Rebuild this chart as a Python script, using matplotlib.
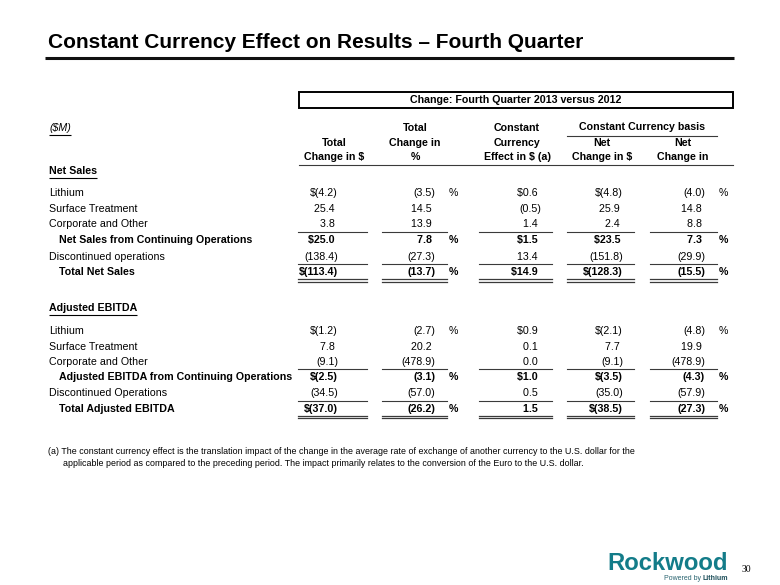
import matplotlib
matplotlib.use("Agg")
import matplotlib.pyplot as plt
from matplotlib import font_manager
from matplotlib.patches import Rectangle

installed = {f.name for f in font_manager.fontManager.ttflist}
SANS = "Liberation Sans"
NARROW = "Liberation Sans Narrow" if "Liberation Sans Narrow" in installed else SANS

# ---- data ----
title = "Constant Currency Effect on Results – Fourth Quarter"
box_title = "Change: Fourth Quarter 2013 versus 2012"
unit_label = "($M)"
group_header = "Constant Currency basis"
col_headers = [["Total", "Change in $"],
               ["Total", "Change in", "%"],
               ["Constant", "Currency", "Effect in $ (a)"],
               ["Net", "Change in $"],
               ["Net", "Change in"]]

ns_title = "Net Sales"
ns_labels = ["Lithium", "Surface Treatment", "Corporate and Other",
             "Net Sales from Continuing Operations", "Discontinued operations",
             "Total Net Sales"]
ns_total_usd = [-4.2, 25.4, 3.8, 25.0, -138.4, -113.4]
ns_total_pct = [-3.5, 14.5, 13.9, 7.8, -27.3, -13.7]
ns_fx_effect = [0.6, -0.5, 1.4, 1.5, 13.4, 14.9]
ns_cc_usd = [-4.8, 25.9, 2.4, 23.5, -151.8, -128.3]
ns_cc_pct = [-4.0, 14.8, 8.8, 7.3, -29.9, -15.5]

eb_title = "Adjusted EBITDA"
eb_labels = ["Lithium", "Surface Treatment", "Corporate and Other",
             "Adjusted EBITDA from Continuing Operations", "Discontinued Operations",
             "Total Adjusted EBITDA"]
eb_total_usd = [-1.2, 7.8, -9.1, -2.5, -34.5, -37.0]
eb_total_pct = [-2.7, 20.2, -478.9, -3.1, -57.0, -26.2]
eb_fx_effect = [0.9, 0.1, 0.0, 1.0, 0.5, 1.5]
eb_cc_usd = [-2.1, 7.7, -9.1, -3.5, -35.0, -38.5]
eb_cc_pct = [-4.8, 19.9, -478.9, -4.3, -57.9, -27.3]

dollar_rows = [0, 3, 5]
eb_fx_dollar_rows = [0, 3]
pct_rows = [0, 3, 5]
bold_rows = [3, 5]

footnote = ["(a) The constant currency effect is the translation impact of the change in the average rate of exchange of another currency to the U.S. dollar for the",
            "applicable period as compared to the preceding period. The impact primarily relates to the conversion of the Euro to the U.S. dollar."]

# ---- layout (pixel coords) ----
fig = plt.figure(figsize=(7.8, 5.85), dpi=100)
ax = fig.add_axes([0, 0, 1, 1])
ax.set_xlim(0, 780)
ax.set_ylim(585, 0)
ax.axis("off")
renderer = fig.canvas.get_renderer()

FS = 7.7
LINE_C = "#3a3a3a"
col_seg = [(298, 367), (382, 447), (479, 552), (567, 634), (650, 717)]
col_right = [338, 435, 541, 623, 705]
pct_x = [453, None, None, None, 723]


def underline_text(t, dy=2.0, lw=0.8):
    bb = t.get_window_extent(renderer)
    y = 585 - bb.y0 + dy
    ax.plot([bb.x0, bb.x1], [y, y], color="black", lw=lw, solid_capstyle="butt")


def fmt(v, dollar):
    s = f"({abs(v):.1f})" if v < 0 else f"{v:.1f} "
    return "$" + s if dollar else s


# title
ax.text(48, 43, title, fontsize=15 if NARROW == SANS else 18, fontweight="bold",
        family=NARROW, va="center")
ax.plot([45, 734], [58, 58], color="#111111", lw=2.2, solid_capstyle="butt")

# box header
ax.add_patch(Rectangle((299, 92), 434, 16, fill=False, ec="black", lw=1.4))
ax.text(516, 100, box_title, fontsize=FS, fontweight="bold", family=SANS,
        ha="center", va="center")

t = ax.text(49, 128, unit_label, fontsize=FS, fontstyle="italic", family=SANS, va="center")
underline_text(t)

head_x = [334, 415, 517, 602, 683]
head_y = [128, 142.5, 157]
for x, lines in zip(head_x, col_headers):
    start = 3 - len(lines)
    for i, s in enumerate(lines):
        ax.text(x, head_y[start + i], s, fontsize=FS, fontweight="bold", family=SANS,
                ha="center", va="center")
ax.text(642, 127.5, group_header, fontsize=FS, fontweight="bold", family=SANS,
        ha="center", va="center")
ax.plot([567, 717], [135.5, 135.5], color=LINE_C, lw=0.8)
ax.plot([299, 733], [164.5, 164.5], color=LINE_C, lw=0.8)


def section(head, head_y, labels, cols, fx_dollar, row_y, line1, line2, dbl):
    t = ax.text(49, head_y, head, fontsize=FS, fontweight="bold", family=SANS, va="center")
    underline_text(t)
    for r, (lab, y) in enumerate(zip(labels, row_y)):
        w = "bold" if r in bold_rows else "normal"
        ax.text(59 if r in bold_rows else 49, y, lab, fontsize=FS, fontweight=w,
                family=SANS, va="center")
        for c, vals in enumerate(cols):
            if c in (0, 3):
                dol = r in dollar_rows
            elif c == 2:
                dol = r in fx_dollar
            else:
                dol = False
            ax.text(col_right[c], y, fmt(vals[r], dol), fontsize=FS, fontweight=w,
                    family=SANS, ha="right", va="center")
            if pct_x[c] is not None and r in pct_rows:
                ax.text(pct_x[c], y, "%", fontsize=FS, fontweight=w, family=SANS,
                        ha="center", va="center")
    for x0, x1 in col_seg:
        ax.plot([x0, x1], [line1, line1], color=LINE_C, lw=0.8)
        ax.plot([x0, x1], [line2, line2], color=LINE_C, lw=0.8)
        ax.plot([x0, x1], [dbl, dbl], color=LINE_C, lw=0.9)
        ax.plot([x0, x1], [dbl + 2.5, dbl + 2.5], color=LINE_C, lw=0.9)


section(ns_title, 171, ns_labels,
        [ns_total_usd, ns_total_pct, ns_fx_effect, ns_cc_usd, ns_cc_pct],
        dollar_rows, [193, 209, 224, 240, 257, 272], 231.5, 263.5, 279)
section(eb_title, 308, eb_labels,
        [eb_total_usd, eb_total_pct, eb_fx_effect, eb_cc_usd, eb_cc_pct],
        eb_fx_dollar_rows, [331, 347, 362, 377, 393, 409], 369, 400.5, 415.5)

# footnote
ax.text(48, 451, footnote[0], fontsize=6.4, family=SANS, va="center")
ax.text(63, 463, footnote[1], fontsize=6.4, family=SANS, va="center")

# logo + page number
TEAL = "#137c89"
ax.text(728, 563, "Rockwood", fontsize=17.2, fontweight="bold", family=SANS,
        color=TEAL, ha="right", va="center")
lt = ax.text(728, 579, "Lithium", fontsize=5, fontweight="bold", family=SANS,
             color="#1d4f5a", ha="right", va="center")
lb = lt.get_window_extent(renderer)
ax.text(lb.x0 - 1.5, 579, "Powered by", fontsize=5, family=SANS, color="#2a6470",
        ha="right", va="center")
ax.text(746, 569, "30", fontsize=7, family="Liberation Serif", ha="center", va="center")

fig.savefig("out.png", dpi=100)
